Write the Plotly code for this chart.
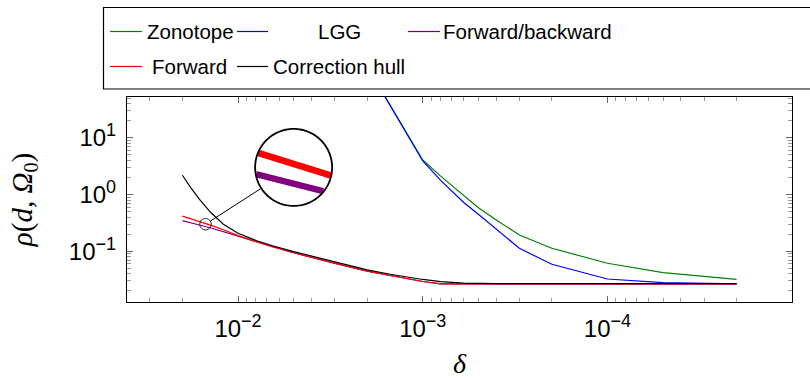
import numpy as np
import plotly.graph_objects as go

# ---------------- data ----------------
delta_left = [0.02, 0.018, 0.016, 0.014, 0.012, 0.01, 0.008, 0.0065, 0.005, 0.004, 0.003,
              0.002, 0.0015, 0.001, 0.0008, 0.0006, 0.0004, 0.0002, 0.0001, 0.00005, 0.00002]
correction_hull = [2.18, 1.31, 0.791, 0.476, 0.300, 0.208, 0.155, 0.125, 0.0988, 0.082, 0.0643,
                   0.047, 0.0394, 0.0319, 0.0293, 0.0274, 0.0269, 0.0269, 0.0269, 0.0269, 0.0269]
forward = [0.417, 0.376, 0.327, 0.2857, 0.239, 0.189, 0.1476, 0.119, 0.0941, 0.0781, 0.0612,
           0.0448, 0.0375, 0.0294, 0.0266, 0.0266, 0.0266, 0.0266, 0.0266, 0.0266, 0.0266]
forward_backward = [0.346, 0.3136, 0.287, 0.257, 0.2213, 0.183, 0.147, 0.119, 0.0941, 0.0781, 0.0612,
                    0.0448, 0.0375, 0.0294, 0.0266, 0.0266, 0.0266, 0.0266, 0.0266, 0.0266, 0.0266]

delta_right = [0.002, 0.001, 0.0008, 0.0006, 0.0005, 0.0004, 0.0003, 0.0002, 0.0001, 0.00005, 0.00002]
zonotope = [180, 4.05, 2.11, 0.95, 0.585, 0.357, 0.194, 0.113, 0.0615, 0.042, 0.0321]
lgg = [180, 3.9, 1.77, 0.725, 0.448, 0.245, 0.113, 0.059, 0.0325, 0.028, 0.0268]

SUP = "<sup><span style='font-size:18px'>{}</span></sup>"
x_tick_vals = [1e-2, 1e-3, 1e-4]
x_tick_text = ["10" + SUP.format("−2"), "10" + SUP.format("−3"), "10" + SUP.format("−4")]
y_tick_vals = [1e-1, 1e0, 1e1]
y_tick_text = ["10" + SUP.format("−1"), "10" + SUP.format("0"), "10" + SUP.format("1")]

spy_point = (0.015, 0.3)     # magnified location
spy_target = (0.005, 3.0)    # where the lens is drawn

# ---------------- layout constants ----------------
FW, FH = 810, 379
ML, MR, MT, MB = 127, 18, 97, 77
PW, PH = FW - ML - MR, FH - MT - MB
x_range = [np.log10(0.02) + 0.3, np.log10(2e-5) - 0.3]
y_range = [-1.893, 1.717]
sx = PW / abs(x_range[1] - x_range[0])
sy = PH / abs(y_range[1] - y_range[0])

C_GREEN, C_BLUE, C_PURPLE, C_RED, C_BLACK = "#008000", "#0000ff", "#800080", "#ff0000", "#000000"
FONT = "Liberation Sans"


def to_px(d, v):
    return (ML + (x_range[0] - np.log10(d)) * sx,
            MT + (y_range[1] - np.log10(v)) * sy)


def px_x(p):
    return (p - ML) / PW


def px_y(p):
    return 1 - (p - MT) / PH


def circle_path(r, n=120):
    ang = np.linspace(0, 2 * np.pi, n, endpoint=False)
    return "M " + " L ".join(f"{r*np.cos(a):.2f},{r*np.sin(a):.2f}" for a in ang) + " Z"


fig = go.Figure()
series = [
    ("Zonotope", delta_right, zonotope, C_GREEN),
    ("LGG", delta_right, lgg, C_BLUE),
    ("Forward/backward", delta_left, forward_backward, C_PURPLE),
    ("Forward", delta_left, forward, C_RED),
    ("Correction hull", delta_left, correction_hull, C_BLACK),
]
for name, xs, ys, col in series:
    fig.add_trace(go.Scatter(x=xs, y=ys, mode="lines", name=name,
                             line=dict(color=col, width=1.2), showlegend=False))

shapes = []
annotations = []

# ---------------- spy lens ----------------
r_small, r_big = 5.7, 38.5
M = r_big / r_small
cs = np.array(to_px(*spy_point))
cb = np.array(to_px(*spy_target))
pix = dict(xref="x", yref="y", xsizemode="pixel", ysizemode="pixel")

shapes.append(dict(type="path", xanchor=spy_target[0], yanchor=spy_target[1],
                   path=circle_path(r_big), fillcolor="white", line=dict(width=0), **pix))

for xs, ys, col, lw in [(delta_left, forward_backward, C_PURPLE, 6.3),
                        (delta_left, forward, C_RED, 6.6)]:
    pts = np.array([to_px(d, v) for d, v in zip(xs, ys)])
    q = (pts - cs) * M
    keep = []
    for i in range(len(q) - 1):
        for t in np.linspace(0, 1, 800):
            p = q[i] * (1 - t) + q[i + 1] * t
            if np.hypot(*p) < r_big - 0.5:
                keep.append(p)
    if keep:
        path = "M " + " L ".join(f"{p[0]:.2f},{-p[1]:.2f}" for p in keep)
        shapes.append(dict(type="path", xanchor=spy_target[0], yanchor=spy_target[1], path=path,
                           line=dict(color=col, width=lw), **pix))

shapes.append(dict(type="path", xanchor=spy_target[0], yanchor=spy_target[1],
                   path=circle_path(r_big), line=dict(color="black", width=1.8), **pix))
shapes.append(dict(type="path", xanchor=spy_point[0], yanchor=spy_point[1],
                   path=circle_path(r_small), line=dict(color="black", width=1), **pix))
dvec = cb - cs
u = dvec / np.hypot(*dvec)
a = u * r_small
b = dvec - u * r_big
shapes.append(dict(type="path", xanchor=spy_point[0], yanchor=spy_point[1],
                   path=f"M {a[0]:.2f},{-a[1]:.2f} L {b[0]:.2f},{-b[1]:.2f}",
                   line=dict(color="black", width=1), **pix))

# ---------------- legend (pgfplots style, centred cells) ----------------
shapes.append(dict(type="rect", xref="paper", yref="paper",
                   x0=px_x(103.5), x1=px_x(830), y0=px_y(7.5), y1=px_y(89),
                   line=dict(color="black", width=1.2), fillcolor="white", layer="above"))
legend_items = [
    ("Zonotope", C_GREEN, 110, 142, 190, 31.5),
    ("LGG", C_BLUE, 237, 268, 339, 31.5),
    ("Forward/backward", C_PURPLE, 408, 440, 527.5, 31.5),
    ("Forward", C_RED, 110, 142, 189, 66.5),
    ("Correction hull", C_BLACK, 237, 268, 339, 66.5),
]
for name, col, lx0, lx1, tx, ry in legend_items:
    shapes.append(dict(type="line", xref="paper", yref="paper",
                       x0=px_x(lx0), x1=px_x(lx1), y0=px_y(ry), y1=px_y(ry),
                       line=dict(color=col, width=1.2)))
    annotations.append(dict(text=name, xref="paper", yref="paper", x=px_x(tx), y=px_y(ry),
                            xanchor="center", yanchor="middle", showarrow=False,
                            font=dict(family=FONT, size=20.5, color="black")))


def minor_vals(lo, hi):
    out = []
    for k in range(lo, hi):
        for m in range(2, 10):
            out.append(m * 10.0 ** k)
    return out


axis_common = dict(type="log", showgrid=False, zeroline=False, showline=True,
                   linecolor="black", linewidth=1.2, mirror="allticks",
                   ticks="inside", ticklen=6, tickcolor="#666", tickwidth=1,
                   tickfont=dict(family=FONT, size=24, color="black"))

fig.update_xaxes(range=x_range, tickmode="array", tickvals=x_tick_vals, ticktext=x_tick_text,
                 ticklabelstandoff=5,
                 minor=dict(tickmode="array", tickvals=minor_vals(-6, 0), ticks="inside",
                            ticklen=4, tickcolor="#999", tickwidth=1),
                 title=dict(text="<i>δ</i>", font=dict(family="Liberation Serif", size=28, color="black"),
                            standoff=13),
                 **axis_common)
fig.update_yaxes(range=y_range, tickmode="array", tickvals=y_tick_vals, ticktext=y_tick_text,
                 ticklabelstandoff=5,
                 minor=dict(tickmode="array", tickvals=minor_vals(-3, 3), ticks="inside",
                            ticklen=4, tickcolor="#999", tickwidth=1),
                 title=dict(text="<i>ρ</i>(<i>d</i>, <i>Ω</i><sub>0</sub>)",
                            font=dict(family="Liberation Serif", size=29, color="black"), standoff=27),
                 **axis_common)

fig.update_layout(width=FW, height=FH, margin=dict(l=ML, r=MR, t=MT, b=MB, autoexpand=False),
                  paper_bgcolor="white", plot_bgcolor="white", showlegend=False,
                  font=dict(family=FONT, color="black"),
                  shapes=shapes, annotations=annotations)

fig.write_html("out.html", config={"displayModeBar": False},
               post_script="document.body.style.margin='0';")
